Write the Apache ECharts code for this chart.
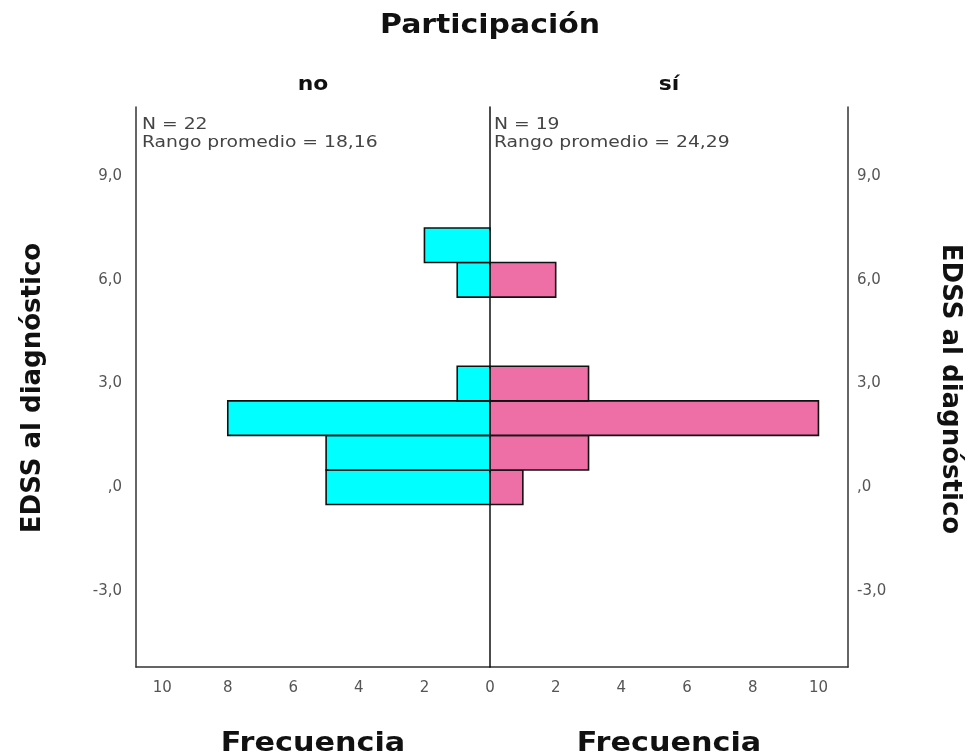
<!DOCTYPE html>
<html>
<head>
<meta charset="utf-8">
<script src="https://cdn.jsdelivr.net/npm/echarts@6/dist/echarts.min.js"></script>
<style>
  html, body { margin: 0; padding: 0; background: #fff; }
  #chart { width: 968px; height: 756px; }
</style>
</head>
<body>
<div id="chart"></div>
<script>
// EDSS bins (centre value, width 1) and frequency per group
const binCenters = [0, 1, 2, 3, 6, 7];
const binWidth = 1;
const countsNo = [5, 5, 8, 1, 1, 2];
const countsSi = [1, 3, 10, 3, 2, 0];

// Axis tick values and their printed labels
const yTicks = [-3, 0, 3, 6, 9];
const yTickText = ['-3,0', ',0', '3,0', '6,0', '9,0'];
const xTicksLeft = [2, 4, 6, 8, 10];
const xTicksRight = [0, 2, 4, 6, 8, 10];

// Group summaries
const groupNames = ['no', 'sí'];
const groupN = [22, 19];
const groupMeanRank = ['18,16', '24,29'];

const chart = echarts.init(document.getElementById('chart'));

const axisColor = '#333';
const labelColor = '#555';
const labelFont = 'DejaVu Sans';

function binData(counts) {
  return binCenters.map((c, i) => [c - binWidth / 2, c + binWidth / 2, counts[i]]);
}

function barRenderer(fill) {
  return function (params, api) {
    const low = api.value(0), high = api.value(1), n = api.value(2);
    if (!n) return null;
    const a = api.coord([0, low]);
    const b = api.coord([n, high]);
    return {
      type: 'rect',
      shape: {
        x: Math.min(a[0], b[0]),
        y: Math.min(a[1], b[1]),
        width: Math.abs(b[0] - a[0]),
        height: Math.abs(b[1] - a[1])
      },
      style: { fill: fill, stroke: '#111', lineWidth: 1.6 }
    };
  };
}

function yLabelFmt(v) {
  const i = yTicks.indexOf(v);
  return i >= 0 ? yTickText[i] : '';
}

const lineStyle = { color: axisColor, width: 1.5 };

const yBase = {
  type: 'value', min: -5.2, max: 11,
  splitLine: { show: false },
  axisTick: { show: false },
  axisLine: { show: true, onZero: false, lineStyle: lineStyle }
};

const xLabel = { margin: 14, color: labelColor, fontSize: 15, fontFamily: labelFont };
const yLabel = { customValues: yTicks, formatter: yLabelFmt, color: labelColor, fontSize: 15, fontFamily: labelFont };

function boldText(text, x, y, size, opts) {
  return Object.assign({
    type: 'text', x: x, y: y,
    style: {
      text: text, fill: '#111',
      font: 'bold ' + size + 'px "DejaVu Sans"',
      textAlign: 'center', textVerticalAlign: 'middle'
    }
  }, opts || {});
}

function plainText(text, x, y) {
  return {
    type: 'text', x: x, y: y, scaleX: 1.25,
    style: {
      text: text, fill: '#444',
      font: '15px "DejaVu Sans"',
      textAlign: 'left', textVerticalAlign: 'middle'
    }
  };
}

chart.setOption({
  animation: false,
  backgroundColor: '#fff',
  grid: [
    { left: 136, right: 478, top: 107, bottom: 89 },
    { left: 490, right: 120, top: 107, bottom: 89 }
  ],
  xAxis: [
    {
      gridIndex: 0, type: 'value', inverse: true, min: 0, max: 10.8,
      splitLine: { show: false }, axisTick: { show: false },
      axisLine: { show: true, onZero: false, lineStyle: lineStyle },
      axisLabel: Object.assign({ customValues: xTicksLeft }, xLabel)
    },
    {
      gridIndex: 1, type: 'value', min: 0, max: 10.9,
      splitLine: { show: false }, axisTick: { show: false },
      axisLine: { show: true, onZero: false, lineStyle: lineStyle },
      axisLabel: Object.assign({ customValues: xTicksRight }, xLabel)
    }
  ],
  yAxis: [
    Object.assign({}, yBase, {
      gridIndex: 0, position: 'left',
      axisLabel: Object.assign({ margin: 14 }, yLabel)
    }),
    Object.assign({}, yBase, {
      gridIndex: 1, position: 'right',
      axisLabel: Object.assign({ margin: 9 }, yLabel)
    }),
    Object.assign({}, yBase, {
      gridIndex: 1, position: 'left', z: 10,
      axisLine: { show: true, onZero: false, lineStyle: { color: '#111', width: 1.5 } },
      axisLabel: { show: false }
    })
  ],
  series: [
    {
      type: 'custom', xAxisIndex: 0, yAxisIndex: 0,
      renderItem: barRenderer('#00FFFF'),
      data: binData(countsNo)
    },
    {
      type: 'custom', xAxisIndex: 1, yAxisIndex: 1,
      renderItem: barRenderer('#EE6FA6'),
      data: binData(countsSi)
    }
  ],
  graphic: [
    boldText('Participación', 490, 26, 26, { scaleX: 1.15 }),
    boldText(groupNames[0], 313, 85, 19, { scaleX: 1.15 }),
    boldText(groupNames[1], 669, 85, 19, { scaleX: 1.15 }),
    boldText('Frecuencia', 313, 744, 27, { scaleX: 1.12 }),
    boldText('Frecuencia', 669, 744, 27, { scaleX: 1.12 }),
    boldText('EDSS al diagnóstico', 33, 388, 26, { rotation: Math.PI / 2 }),
    boldText('EDSS al diagnóstico', 950, 389, 26, { rotation: -Math.PI / 2 }),
    plainText('N = ' + groupN[0], 142, 125),
    plainText('Rango promedio = ' + groupMeanRank[0], 142, 143),
    plainText('N = ' + groupN[1], 494, 125),
    plainText('Rango promedio = ' + groupMeanRank[1], 494, 143)
  ]
});
</script>
</body>
</html>
